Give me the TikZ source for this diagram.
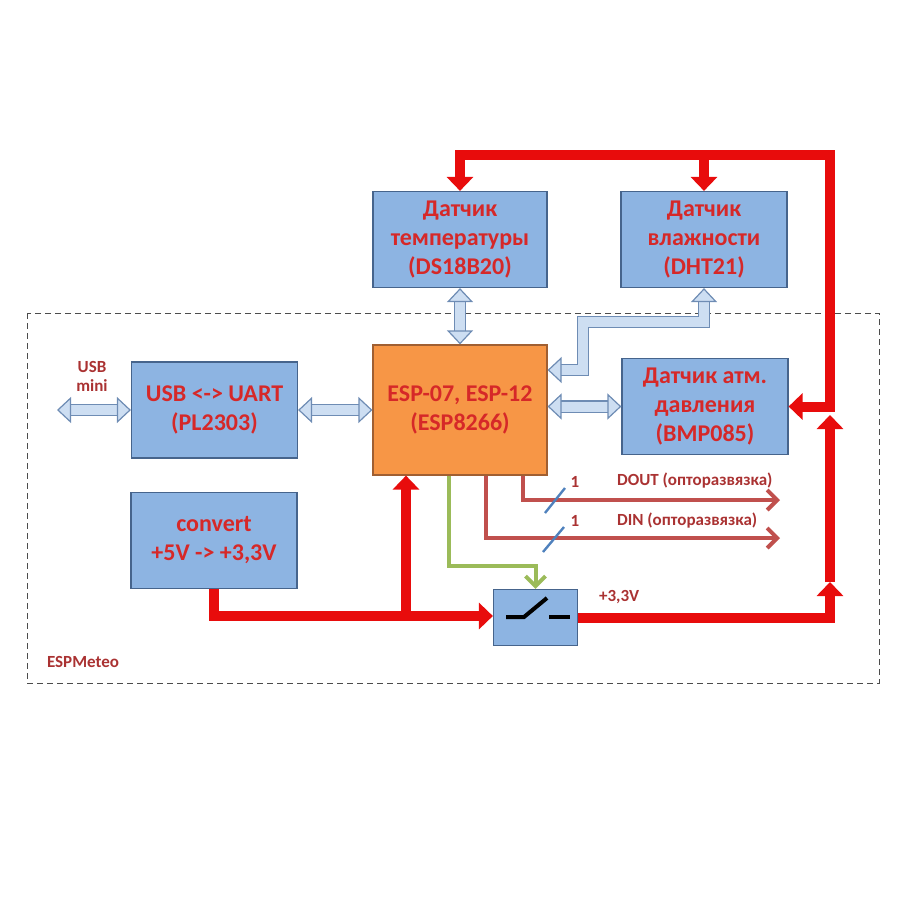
\documentclass[tikz,border=0pt]{standalone}
\usepackage{fontspec}
\setmainfont{Carlito}
\usepackage{tikz}
\usetikzlibrary{arrows.meta,positioning}

\definecolor{boxfill}{RGB}{141,180,226}
\definecolor{boxedge}{RGB}{70,100,140}
\definecolor{espfill}{RGB}{247,150,70}
\definecolor{espedge}{RGB}{160,95,50}
\definecolor{hollowfill}{RGB}{205,222,242}
\definecolor{hollowedge}{RGB}{110,140,180}
\definecolor{powerred}{RGB}{232,12,12}
\definecolor{sigred}{RGB}{192,80,77}
\definecolor{ctrlgreen}{RGB}{155,187,89}
\definecolor{slashblue}{RGB}{79,129,189}
\definecolor{txtred}{RGB}{214,40,40}
\definecolor{lblred}{RGB}{170,50,50}

\tikzset{
  block/.style={draw=boxedge, fill=boxfill, line width=0.6pt, align=center,
    text=txtred, font=\fontsize{12}{14.5}\selectfont\bfseries},
  hollow/.style={draw=hollowedge, double=hollowfill, double distance=5pt, line width=0.6pt,
    {Triangle[width=13pt,length=7pt,fill=hollowfill]}-{Triangle[width=13pt,length=7pt,fill=hollowfill]}},
  power/.style={draw=powerred, line width=5pt, -{Triangle[width=13pt,length=7pt]}},
  signal/.style={draw=sigred, line width=2pt, -{Straight Barb[width=10pt,length=5pt]}},
  ctrl/.style={draw=ctrlgreen, line width=2pt, -{Straight Barb[width=10pt,length=5pt]}},
  lbl/.style={text=lblred, font=\fontsize{8.5}{9.5}\selectfont\bfseries, align=center}
}

\begin{document}
\begin{tikzpicture}[x=0.5pt,y=-0.5pt]
\useasboundingbox (0,0) rectangle (912,912);

% board outline
\draw[densely dashed, draw=gray!60!black, line width=0.4pt] (27,313) rectangle (879,683);
\node[lbl, anchor=west] (board) at (40,662) {ESPMeteo};

% sensors on top
\node[block, minimum width=87pt, minimum height=48pt] (temp) at (460,239.5) {Датчик\\температуры\\(DS18B20)};
\node[block, minimum width=83pt, minimum height=48pt] (humid) at (704,239.5) {Датчик\\влажности\\(DHT21)};

% main row
\node[block, minimum width=83pt, minimum height=48pt] (uart) at (214.5,410) {USB <-> UART\\(PL2303)};
\node[block, fill=espfill, draw=espedge, minimum width=87pt, minimum height=65pt] (esp) at (460,410) {ESP-07, ESP-12\\(ESP8266)};
\node[block, minimum width=83pt, minimum height=48pt] (press) at (705,406.5) {Датчик атм.\\давления\\(BMP085)};

% power part
\node[block, minimum width=83pt, minimum height=48pt] (conv) at (214,540.5) {convert\\+5V -> +3,3V};
\node[block, minimum width=42pt, minimum height=28pt] (sw) at (535.5,617.5) {};
\draw[line width=2pt] (506,617) -- (524,617) -- (547,598);
\draw[line width=2pt] (549,617) -- (570,617);

% data links
\coordinate (usb) at (57,410);
\node[lbl] (usblbl) at (92,376) {USB\\mini};
\draw[hollow] (usb) -- (uart.west);
\draw[hollow] (uart.east) -- (esp.west);
\draw[hollow] (temp.south) -- (esp.north);
\draw[hollow] (esp.east |- press.west) -- (press.west);
\coordinate (hbend) at (583,322);
\draw[hollow] (humid.south) |- (hbend) |- (esp.east |- 0,370);

% power lines
\coordinate (ptop) at (830,155);
\draw[power, {Triangle[width=13pt,length=7pt]}-{Triangle[width=13pt,length=7pt]}] (temp.north) |- (ptop) |- (press.east);
\draw[power] (humid.north |- ptop) -- (humid.north);
\coordinate (pup) at (406,616);
\draw[power, -] (conv.south) |- (pup);
\draw[power] (pup) -- (sw.west |- pup);
\draw[power] (pup) -- (pup |- esp.south);
\coordinate (pr1) at (830,582);
\coordinate (pr2) at (830,415);
\draw[power] (sw.east) -| (pr1);
\draw[power] (pr1) -- (pr2);
\node[lbl, anchor=west] (v33) at (592,597) {+3,3V};

% outputs
\coordinate (dout) at (780,500);
\coordinate (din) at (780,538);
\draw[signal] (esp.south -| 523,0) |- (dout);
\draw[signal] (esp.south -| 486,0) |- (din);
\draw[slashblue, line width=1.2pt] (545,513) -- (565,488);
\draw[slashblue, line width=1.2pt] (543,552) -- (564,527);
\node[lbl] (n1) at (575,482) {1};
\node[lbl] (n2) at (575,521) {1};
\node[lbl, anchor=west] (doutlbl) at (610,481) {DOUT (опторазвязка)};
\node[lbl, anchor=west] (dinlbl) at (610,521) {DIN (опторазвязка)};

% enable line
\draw[ctrl] (esp.south -| 449,0) |- (sw.north |- 0,566) -- (sw.north);
\end{tikzpicture}
\end{document}
